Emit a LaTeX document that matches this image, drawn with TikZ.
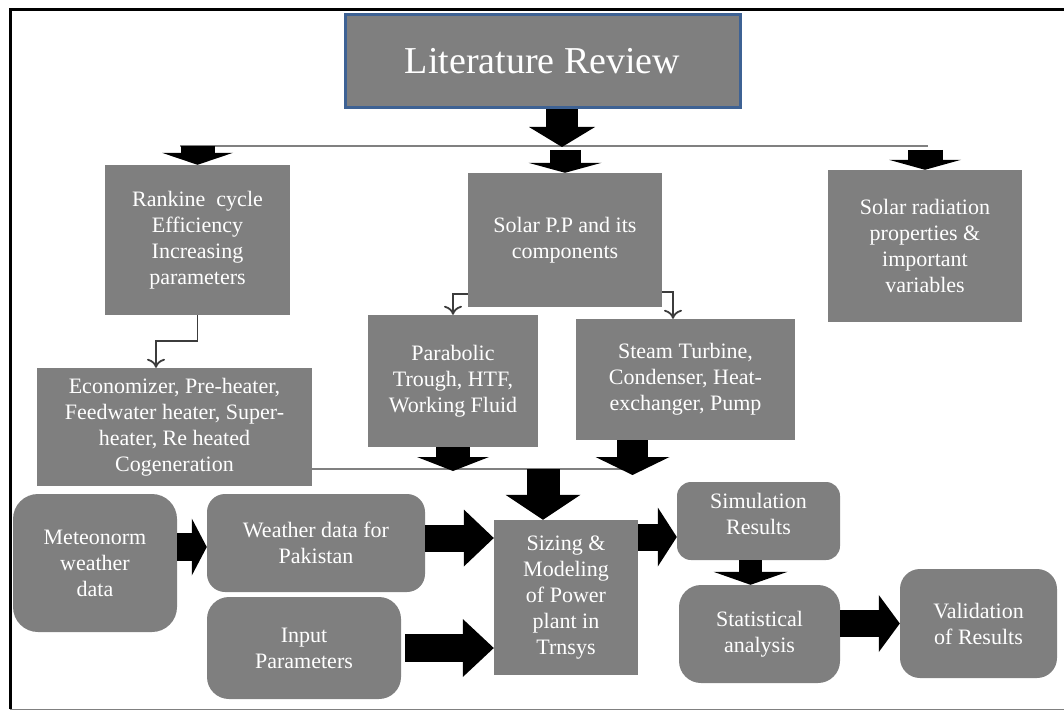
\documentclass[tikz,border=0pt]{standalone}
\usepackage{fontspec}
\setmainfont{Liberation Serif}
\usetikzlibrary{arrows.meta,calc}

\definecolor{boxgrey}{RGB}{127,127,127}
\definecolor{litblue}{RGB}{62,98,148}
\definecolor{linkgrey}{RGB}{60,60,60}

\tikzset{
  greybox/.style={fill=boxgrey, text=white, inner sep=0pt, align=center,
    font=\fontsize{22}{26}\selectfont},
  roundbox/.style={greybox, rounded corners=#1},
  roundbox/.default=20pt,
  fatarrow/.style n args={3}{draw=black, line width=#1pt,
    -{Triangle[width=#2pt,length=#3pt,line width=0pt]}},
  thinlink/.style={draw=linkgrey, line width=1.8pt,
    -{Computer Modern Rightarrow[length=9pt,width=18pt]}},
  busline/.style={draw=gray, line width=2.5pt}
}

\begin{document}
\begin{tikzpicture}[x=1pt,y=-1pt]
\useasboundingbox (0,0) rectangle (1064,711);
% frame
\draw[line width=3pt] (10,709) -- (10,10) -- (1064,10);
\draw[gray, line width=1.5pt] (10,709.5) -- (1064,709.5);

% boxes
\node[greybox, draw=litblue, line width=3pt, minimum width=395pt, minimum height=93pt,
  font=\fontsize{38}{44}\selectfont] (lit) at (542.5,61.5) {Literature Review};
\node[greybox, minimum width=185pt, minimum height=150pt] (rankine) at (197.5,240)
  {Rankine~ cycle\\Efficiency\\Increasing\\parameters};
\node[greybox, minimum width=194pt, minimum height=134pt] (solar) at (565,240)
  {Solar P.P and its\\components};
\node[greybox, minimum width=194pt, minimum height=152pt] (rad) at (925,246)
  {Solar radiation\\properties \&\\important\\variables};
\node[greybox, minimum width=170pt, minimum height=132pt] (parab) at (453,381)
  {Parabolic\\Trough, HTF,\\Working Fluid};
\node[greybox, minimum width=219pt, minimum height=121pt] (steam) at (685.5,379.5)
  {Steam Turbine,\\Condenser, Heat-\\exchanger, Pump};
\node[greybox, minimum width=275pt, minimum height=118pt] (econ) at (174.5,427)
  {Economizer, Pre-heater,\\Feedwater heater, Super-\\heater, Re heated\\Cogeneration};
\node[roundbox=25pt, minimum width=164pt, minimum height=138pt] (meteo) at (95,563)
  {Meteonorm\\weather\\data};
\node[roundbox=18pt, minimum width=218pt, minimum height=98pt] (weather) at (316,543)
  {Weather data for\\Pakistan};
\node[roundbox=22pt, minimum width=194pt, minimum height=102pt] (input) at (304,648)
  {Input\\Parameters};
\node[greybox, minimum width=144pt, minimum height=155pt] (sizing) at (566,597.5)
  {Sizing \&\\Modeling\\of Power\\plant in\\Trnsys};
\node[roundbox=14pt, minimum width=163pt, minimum height=78pt] (sim) at (758.5,521)
  {Simulation\\Results\\[-12pt]~};
\node[roundbox=22pt, minimum width=161pt, minimum height=98pt] (stat) at (759.5,634)
  {Statistical\\analysis};
\node[roundbox=20pt, minimum width=157pt, minimum height=109pt] (valid) at (978.5,623.5)
  {Validation\\of Results};

% top distribution
\coordinate (busL) at (180,146);
\coordinate (busR) at (928,146);
\coordinate (busC) at (562,147);
\draw[busline] (busL) -- (busR);
\draw[fatarrow={32}{66}{20}] (lit.south -| busC) -- (busC);
\draw[fatarrow={34}{71}{12}] (rankine.north |- busL) -- (rankine.north);
\coordinate (midtop) at ([yshift=-4pt]solar.north |- busL);
\draw[fatarrow={31}{73}{10}] (midtop) -- (solar.north);
\coordinate (radtop) at ([yshift=-4pt]rad.north |- busL);
\draw[fatarrow={35}{72}{10}] (radtop) -- (rad.north);

% thin links
\draw[thinlink] (rankine.south) -- ++(0,26) -| ([xshift=-18.5pt]econ.north);
\draw[thinlink] ([yshift=13pt]solar.south west) -| (parab.north);
\draw[thinlink] ([yshift=15pt]solar.south east) -| ([xshift=-12.5pt]steam.north);

% lower distribution
\coordinate (busB) at (312,469);
\coordinate (busE) at (635,469);
\draw[busline] (econ.east |- busB) -- (busE);
\draw[fatarrow={34}{72}{14}] (parab.south) -- ([yshift=-2pt]parab.south |- busB);
\coordinate (steamout) at ([xshift=-53pt]steam.south);
\draw[fatarrow={31}{74}{18}] (steamout) -- ([yshift=-6pt]steamout |- busB);
\coordinate (sizetop) at ([xshift=-23pt]sizing.north);
\draw[fatarrow={33}{75}{25}] (sizetop |- busB) -- (sizetop);

% bottom flow
\coordinate (wthin) at ([yshift=-4pt]weather.west);
\draw[fatarrow={28}{57}{15}] (meteo.east |- wthin) -- (wthin);
\coordinate (wthout) at ([yshift=5pt]weather.east);
\draw[fatarrow={27}{57}{30}] (wthout) -- (wthout -| sizing.west);
\draw[fatarrow={28}{58}{31}] ([xshift=4pt]input.east) -- (input.east -| sizing.west);
\coordinate (simin) at ([yshift=-16pt]sim.west);
\draw[fatarrow={27}{59}{19}] (sizing.east |- simin) -- (simin);
\coordinate (simout) at ([xshift=-8pt]sim.south);
\draw[fatarrow={23}{74}{13}] (simout) -- (simout |- stat.north);
\draw[fatarrow={27}{57}{21}] (stat.east |- valid.west) -- (valid.west);
\end{tikzpicture}
\end{document}
